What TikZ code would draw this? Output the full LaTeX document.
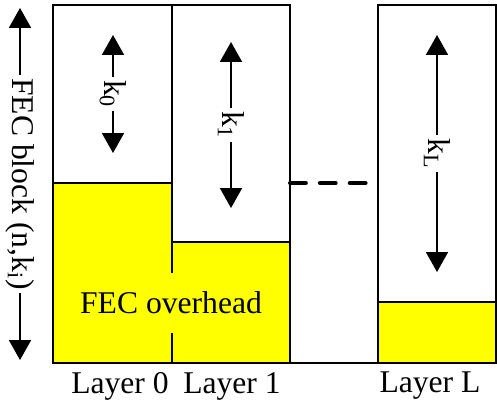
\documentclass[tikz,border=0pt]{standalone}
\usepackage{fontspec}
\setmainfont{Liberation Serif}
\usetikzlibrary{arrows.meta, positioning}
\definecolor{fecYellow}{HTML}{FFFF00}

\begin{document}
\begin{tikzpicture}[x=0.02cm, y=-0.02cm,
      >={Triangle[length=4mm, width=4.4mm]}, line width=1.4pt,
      lbl/.style={font=\fontsize{18}{20}\selectfont, inner sep=1pt},
      klbl/.style={lbl, fill=white, rotate=-90, inner sep=2pt},
      dimarrow/.style={<->, line width=1.1pt}]
    \useasboundingbox (0,0) rectangle (497,412);
    % FEC overhead parts
    \filldraw[fill=fecYellow] (53,183) rectangle (172,363);
    \filldraw[fill=fecYellow] (172,242) rectangle (290,363);
    \filldraw[fill=fecYellow] (378,302) rectangle (496,363);
    % layer columns
    \draw (53,5) rectangle (172,363);
    \draw (172,5) rectangle (290,363);
    \draw (378,5) rectangle (496,363);
    \draw (290,363) -- (378,363);
    \node[lbl, fill=fecYellow, minimum width=4.68cm, minimum height=1.2cm] (ovh) at (171,303) {FEC overhead};
    % block sizes
    \coordinate (b0) at (20,8);   \coordinate (b1) at (20,360);
    \coordinate (k0t) at (113,35);  \coordinate (k0b) at (113,153);
    \coordinate (k1t) at (231,42);  \coordinate (k1b) at (231,208);
    \coordinate (kLt) at (437,35);  \coordinate (kLb) at (437,272);
    \draw[dimarrow] (b0) -- node[klbl] {FEC block (n,k\textsubscript{i})} (b1);
    \draw[dimarrow] (k0t) -- node[klbl] {k\textsubscript{0}} (k0b);
    \draw[dimarrow] (k1t) -- node[klbl] {k\textsubscript{1}} (k1b);
    \draw[dimarrow] (kLt) -- node[klbl] {k\textsubscript{L}} (kLb);
    % more layers
    \coordinate (d0) at (290,183); \coordinate (d1) at (368,183);
    \draw[line width=2.3pt, line cap=round, dash pattern=on 9pt off 8pt] (d0) -- (d1);
    \node[lbl] (lay0) at (120,386) {Layer 0};
    \node[lbl] (lay1) at (232,386) {Layer 1};
    \node[lbl] (layL) at (430,386) {Layer L};
  \end{tikzpicture}
\end{document}
